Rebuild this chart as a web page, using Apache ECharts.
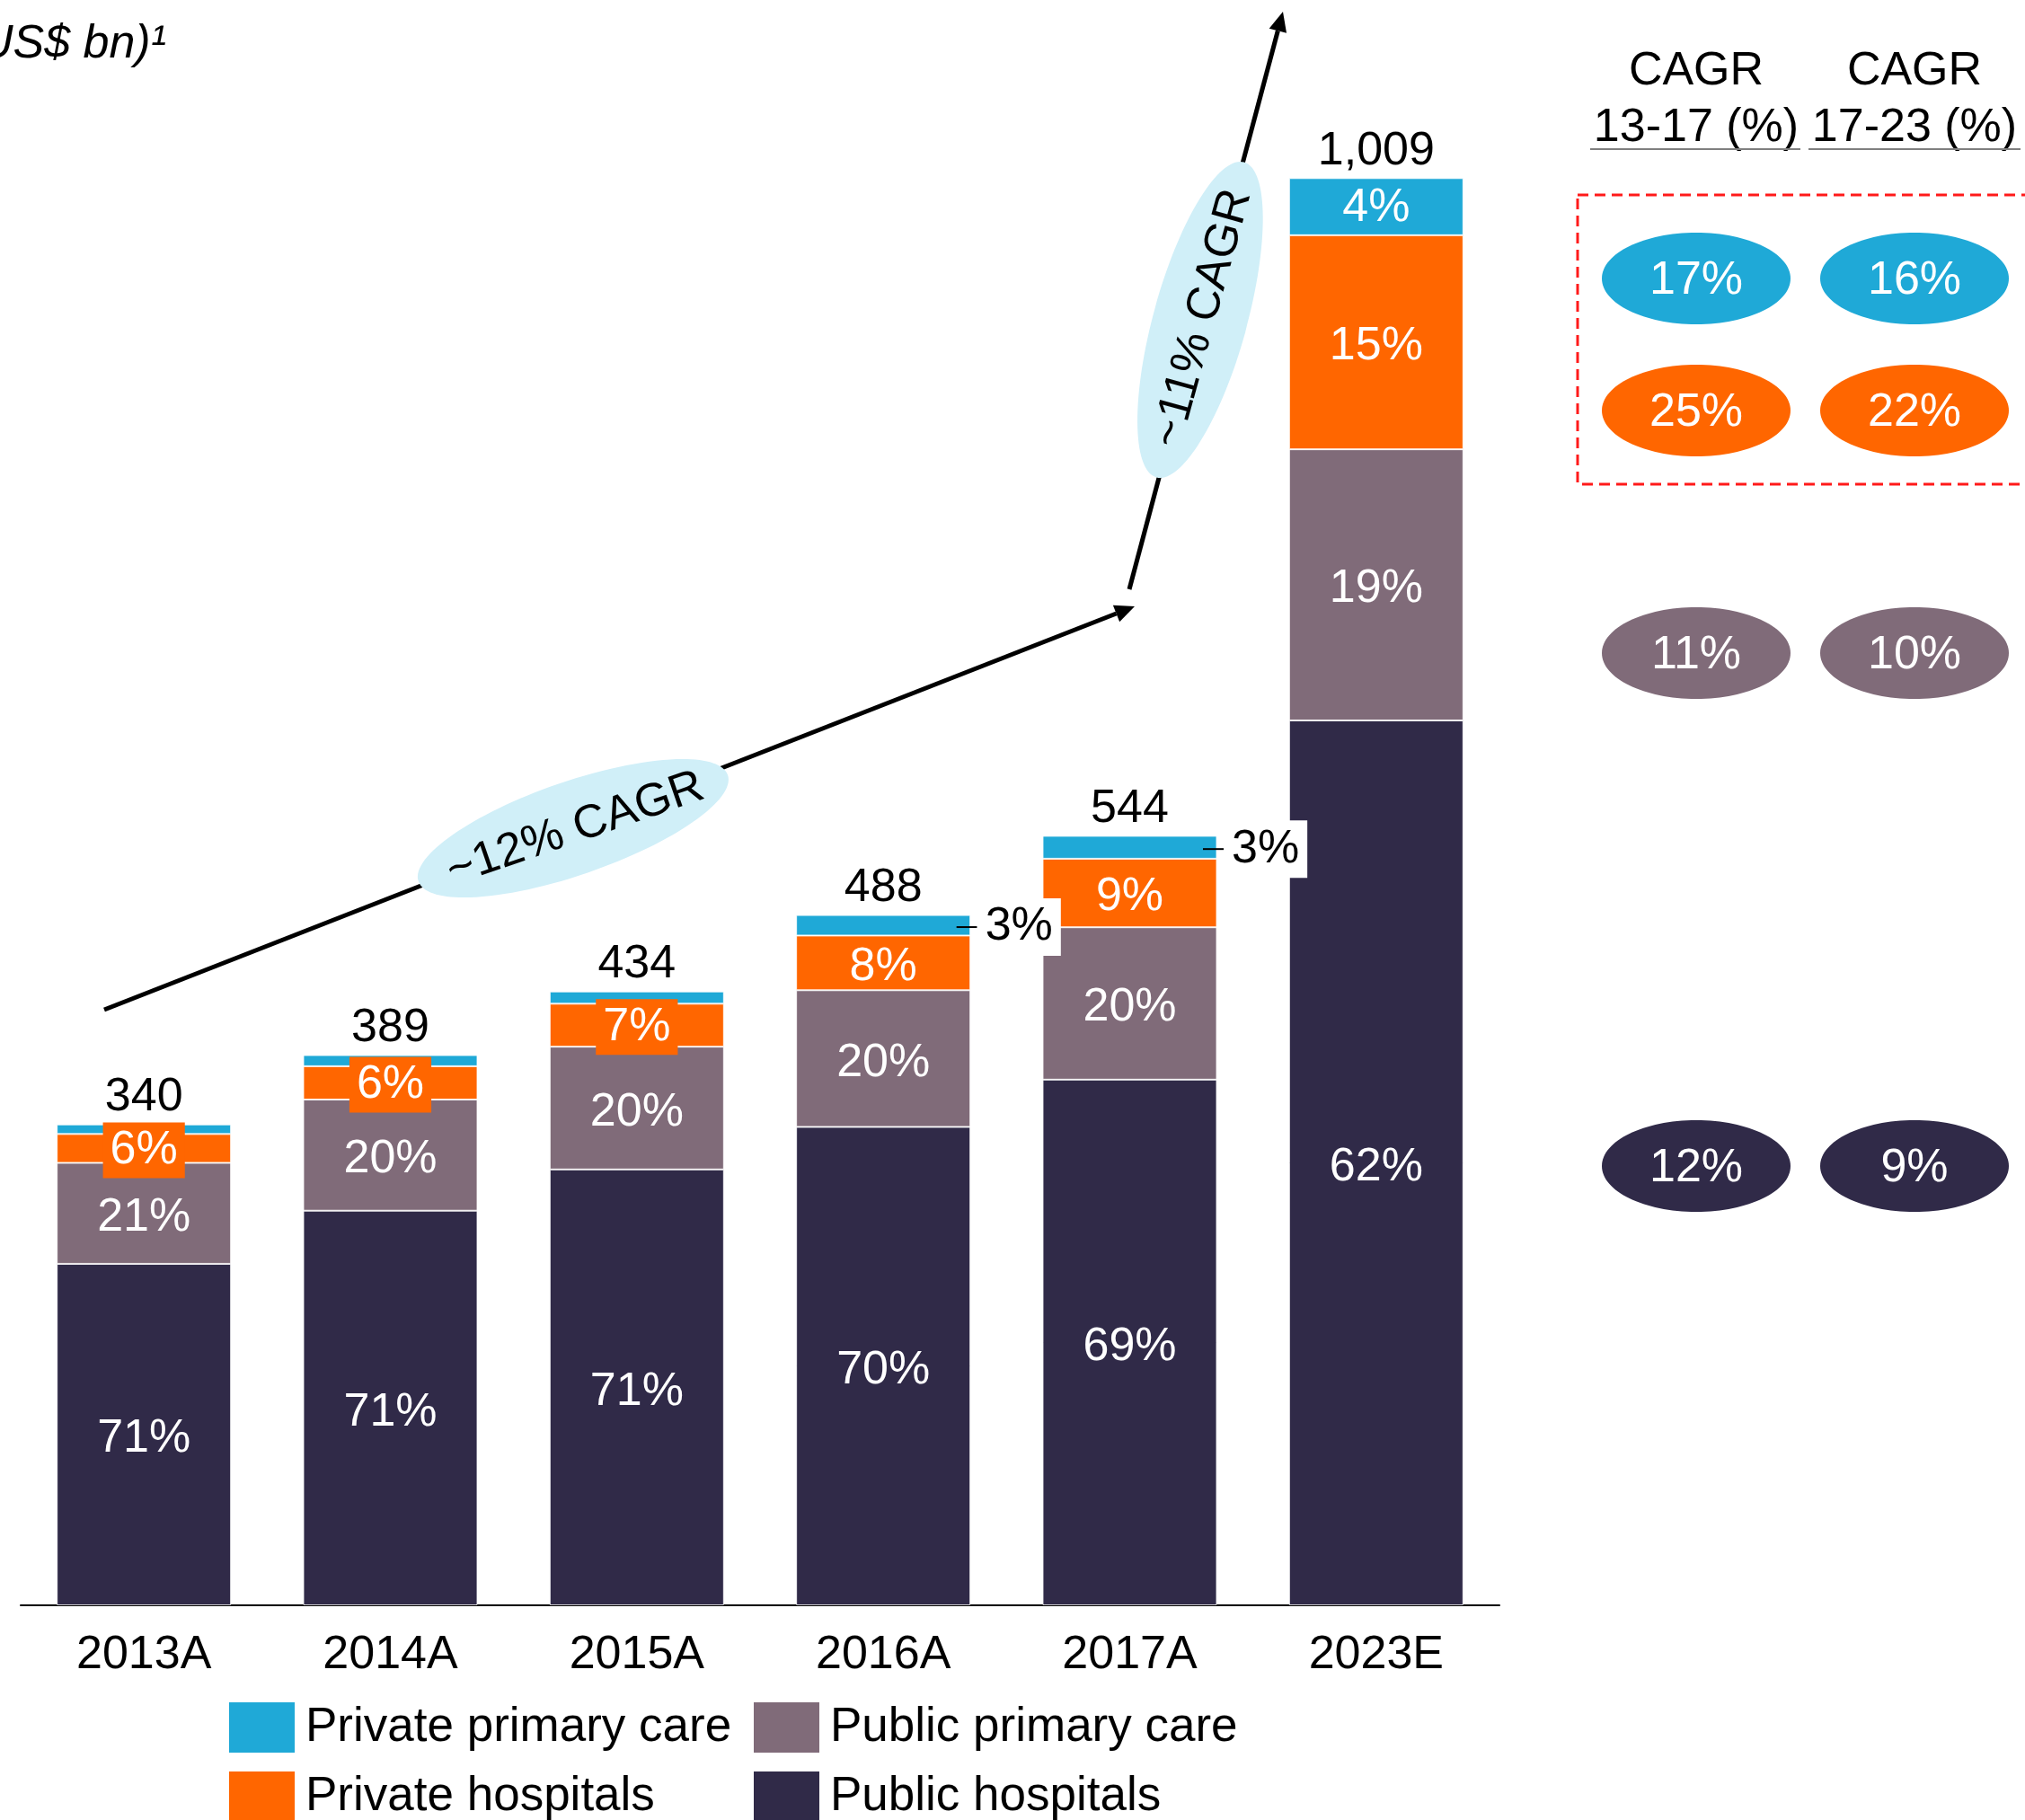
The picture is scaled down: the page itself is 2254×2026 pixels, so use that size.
<!DOCTYPE html>
<html>
<head>
<meta charset="utf-8">
<style>
  html, body { margin: 0; padding: 0; background: #ffffff; }
  #chart { width: 2254px; height: 2026px; }
</style>
<script src="https://cdn.jsdelivr.net/npm/echarts@6/dist/echarts.min.js"></script>
</head>
<body>
<div id="chart"></div>
<script>
// Market size by segment, US$ bn, with each segment's share of the year's total (%)
const years = ['2013A', '2014A', '2015A', '2016A', '2017A', '2023E'];
const totals = [340, 389, 434, 488, 544, 1009];
const sharePublicHospitals = [71, 71, 71, 70, 69, 62];
const sharePublicPrimary = [21, 20, 20, 20, 20, 19];
const sharePrivateHospitals = [6, 6, 7, 8, 9, 15];
const sharePrivatePrimary = [2, 2, 2, 3, 3, 4];

// Growth rates per segment (rows: private primary, private hospitals, public primary, public hospitals)
const cagrHeads = [['CAGR', '13-17 (%)'], ['CAGR', '17-23 (%)']];
const cagr1317 = [17, 25, 11, 12];
const cagr1723 = [16, 22, 10, 9];

const overallCagr = ['~12% CAGR', '~11% CAGR'];

const FONT = '"Liberation Sans", Arial, Helvetica, sans-serif';
const C_PUB_HOS = '#302a48';
const C_PUB_PRI = '#806b79';
const C_PRI_HOS = '#ff6600';
const C_PRI_PRI = '#1fa9d7';
const C_BUBBLE = '#d0eff8';

// split each year's total across the segments in proportion to the stated shares
const shareSum = years.map((_, i) =>
  sharePublicHospitals[i] + sharePublicPrimary[i] + sharePrivateHospitals[i] + sharePrivatePrimary[i]);
const seg = (shares) => shares.map((s, i) => totals[i] * s / shareSum[i]);

const vPubHos = seg(sharePublicHospitals);
const vPubPri = seg(sharePublicPrimary);
const vPriHos = seg(sharePrivateHospitals);
const vPriPri = seg(sharePrivatePrimary);

const insideLabel = {
  show: true,
  position: 'inside',
  offset: [0, 5],
  color: '#ffffff',
  fontSize: 52,
  fontFamily: FONT,
  formatter: (p) => p.data.share + '%'
};
const segBorder = { borderColor: 'rgba(255,255,255,0.8)', borderWidth: 1 };

function items(values, shares, extra) {
  return values.map((v, i) => Object.assign({ value: v, share: shares[i] }, extra ? extra(i) : {}));
}

// small private-primary slices are called out to the right of the bar
const calloutYears = [3, 4];
const calloutData = years.map((_, i) =>
  calloutYears.includes(i) ? totals[i] - vPriPri[i] / 2 : '-');

function arrow(x1, y1, x2, y2) {
  const a = Math.atan2(y2 - y1, x2 - x1);
  const len = 22, hw = 10;
  const bx = x2 - len * Math.cos(a), by = y2 - len * Math.sin(a);
  const px = -Math.sin(a) * hw, py = Math.cos(a) * hw;
  return [
    { type: 'line', shape: { x1: x1, y1: y1, x2: bx, y2: by },
      style: { stroke: '#000', lineWidth: 5 } },
    { type: 'polygon', shape: { points: [[x2, y2], [bx + px, by + py], [bx - px, by - py]] },
      style: { fill: '#000' } }
  ];
}

function txt(text, x, y, opts) {
  return {
    type: 'text',
    style: Object.assign({
      text: text, x: x, y: y,
      font: '52px ' + FONT,
      fill: '#000',
      textAlign: 'center', align: 'center',
      textVerticalAlign: 'middle', verticalAlign: 'middle'
    }, opts || {})
  };
}

function bubble(cx, cy, deg, label) {
  return {
    type: 'group', x: cx, y: cy, rotation: deg * Math.PI / 180,
    children: [
      { type: 'ellipse', shape: { cx: 0, cy: 0, rx: 182, ry: 52 }, style: { fill: C_BUBBLE } },
      txt(label, 2, 2)
    ]
  };
}

// growth-rate table on the right
const colX = [1888, 2131];
const rowY = [310, 457, 727, 1298];
const rowColors = [C_PRI_PRI, C_PRI_HOS, C_PUB_PRI, C_PUB_HOS];
const tableEls = [];
cagrHeads.forEach((h, c) => {
  tableEls.push(txt(h[0], colX[c], 80));
  tableEls.push(txt(h[1], colX[c], 143));
});
tableEls.push({ type: 'line', shape: { x1: 1770, y1: 166, x2: 2004, y2: 166 }, style: { stroke: '#808080', lineWidth: 2 } });
tableEls.push({ type: 'line', shape: { x1: 2013, y1: 166, x2: 2249, y2: 166 }, style: { stroke: '#808080', lineWidth: 2 } });
tableEls.push({ type: 'rect', shape: { x: 1756, y: 217, width: 560, height: 322 },
  style: { fill: 'none', stroke: '#ff1a1a', lineWidth: 3, lineDash: [12, 7] } });
[cagr1317, cagr1723].forEach((col, c) => {
  col.forEach((v, r) => {
    tableEls.push({ type: 'ellipse', shape: { cx: colX[c], cy: rowY[r], rx: 105, ry: 51 }, style: { fill: rowColors[r] } });
    tableEls.push(txt(v + '%', colX[c], rowY[r] + 3, { fill: '#ffffff' }));
  });
});

const legendBase = {
  orient: 'vertical', top: 1888, height: 160, itemGap: 17,
  itemWidth: 73, itemHeight: 56, icon: 'rect', selectedMode: false,
  itemStyle: { borderWidth: 0 },
  textStyle: { color: '#000', fontSize: 53, lineHeight: 56, fontFamily: FONT, padding: [4, 0, 0, 7] }
};

const chart = echarts.init(document.getElementById('chart'), null, { renderer: 'canvas' });

chart.setOption({
  animation: false,
  backgroundColor: '#ffffff',
  textStyle: { fontFamily: FONT },
  grid: { left: 23, right: 585, top: 55, bottom: 239 },
  xAxis: {
    type: 'category',
    data: years,
    axisLine: { lineStyle: { color: '#000', width: 2 } },
    axisTick: { show: false },
    axisLabel: { color: '#000', fontSize: 52, fontFamily: FONT, margin: 30 }
  },
  yAxis: { type: 'value', min: 0, max: 1100, show: false },
  legend: [
    Object.assign({ data: ['Private primary care', 'Private hospitals'], left: 250 }, legendBase),
    Object.assign({ data: ['Public primary care', 'Public hospitals'], left: 834 }, legendBase)
  ],
  series: [
    {
      name: 'Public hospitals', type: 'bar', stack: 'total', barWidth: 194, z: 1,
      itemStyle: Object.assign({ color: C_PUB_HOS }, segBorder),
      label: insideLabel,
      data: items(vPubHos, sharePublicHospitals)
    },
    {
      name: 'Public primary care', type: 'bar', stack: 'total', barWidth: 194, z: 1,
      itemStyle: Object.assign({ color: C_PUB_PRI }, segBorder),
      label: insideLabel,
      data: items(vPubPri, sharePublicPrimary)
    },
    {
      name: 'Private hospitals', type: 'bar', stack: 'total', barWidth: 194, z: 3,
      itemStyle: Object.assign({ color: C_PRI_HOS }, segBorder),
      label: insideLabel,
      data: items(vPriHos, sharePrivateHospitals, (i) =>
        i < 3 ? { label: { backgroundColor: C_PRI_HOS, padding: [5, 8], offset: [0, 2] } } : {})
    },
    {
      name: 'Private primary care', type: 'bar', stack: 'total', barWidth: 194, z: 2,
      itemStyle: Object.assign({ color: C_PRI_PRI }, segBorder),
      label: Object.assign({}, insideLabel, { show: false, offset: [0, 2] }),
      data: items(vPriPri, sharePrivatePrimary, (i) =>
        i === 5 ? { label: { show: true } } : {})
    },
    {
      name: 'callout', type: 'scatter', z: 10, symbolSize: 1,
      itemStyle: { color: 'rgba(0,0,0,0)', opacity: 1 },
      silent: true,
      data: calloutData,
      label: {
        show: true, position: 'right', distance: 81, offset: [0, 2],
        formatter: (p) => '{ln|}{bx|' + sharePrivatePrimary[p.dataIndex] + '%}',
        rich: {
          ln: { width: 23, height: 2, backgroundColor: '#000' },
          bx: { backgroundColor: '#ffffff', padding: [6, 9], fontSize: 52, color: '#000', fontFamily: FONT }
        }
      }
    },
    {
      name: 'total', type: 'scatter', z: 10, symbolSize: 1,
      itemStyle: { color: 'rgba(0,0,0,0)', opacity: 1 },
      silent: true,
      data: totals,
      label: {
        show: true, position: 'top', distance: 3,
        color: '#000', fontSize: 52, fontFamily: FONT,
        formatter: (p) => totals[p.dataIndex].toLocaleString('en-US')
      }
    }
  ],
  graphic: [
    txt('(US$ bn)\u00b9', 185, 50, { textAlign: 'right', align: 'right', font: 'italic 52px ' + FONT }),
    ...arrow(116, 1124, 1263, 675),
    ...arrow(1257, 656, 1428, 13),
    bubble(638, 922, 19, overallCagr[0]),
    bubble(1336, 356, 74.5, overallCagr[1]),
    ...tableEls
  ]
});
</script>
</body>
</html>
